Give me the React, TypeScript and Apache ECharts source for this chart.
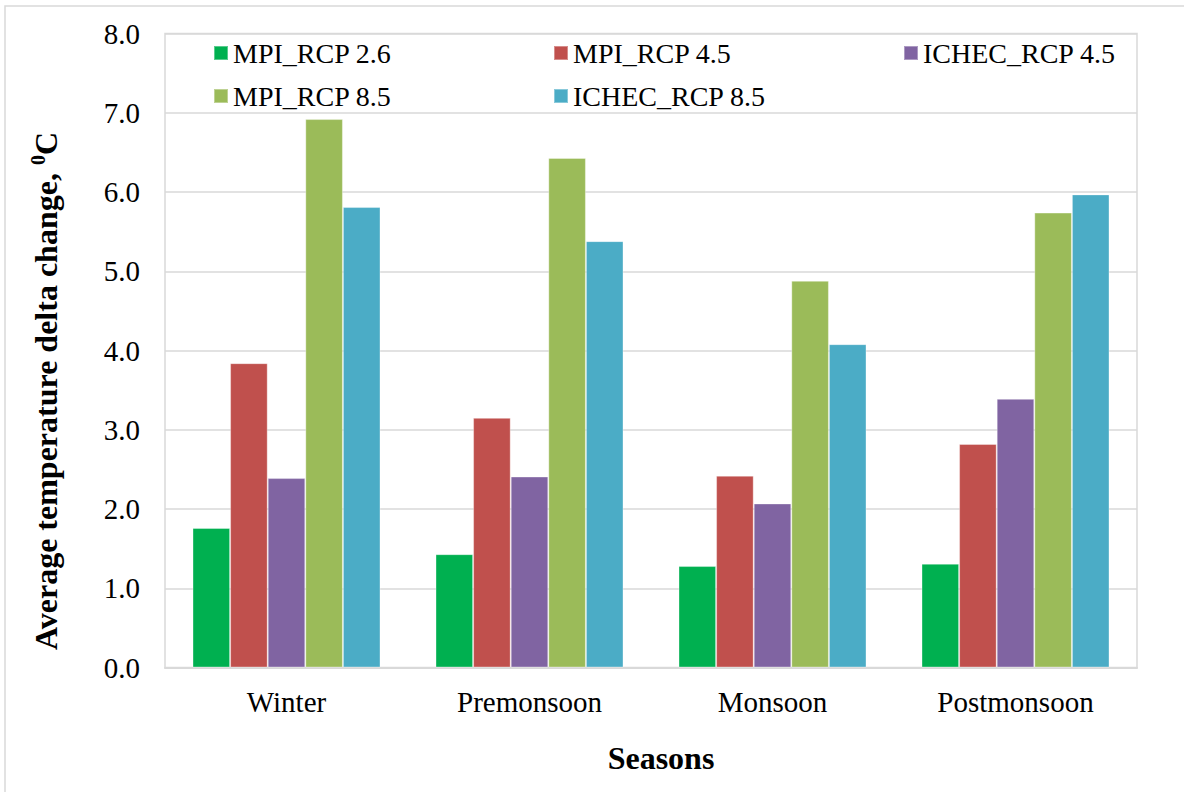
import React, { useEffect, useRef } from "react";
import * as echarts from "echarts";

const categories = ["Winter", "Premonsoon", "Monsoon", "Postmonsoon"];
const seriesNames = ["MPI_RCP 2.6", "MPI_RCP 4.5", "ICHEC_RCP 4.5", "MPI_RCP 8.5", "ICHEC_RCP 8.5"];
const mpi26 = [1.76, 1.43, 1.28, 1.31];
const mpi45 = [3.84, 3.15, 2.42, 2.82];
const ichec45 = [2.39, 2.41, 2.07, 3.39];
const mpi85 = [6.92, 6.43, 4.88, 5.74];
const ichec85 = [5.81, 5.38, 4.08, 5.97];
const seriesValues = [mpi26, mpi45, ichec45, mpi85, ichec85];
const colors = ["#00B050", "#C0504D", "#8064A2", "#9BBB59", "#4BACC6"];
const yTicks = { min: 0, max: 8, interval: 1 };

const FONT = "Liberation Serif";

// legend positions: [left, centerY]
const legendPos: [number, number][] = [
  [213, 53],
  [553, 53],
  [903, 53],
  [213, 96],
  [553, 96],
];

export default function App() {
  const ref = useRef<HTMLDivElement>(null);
  useEffect(() => {
    if (!ref.current) return;
    const chart = echarts.init(ref.current, null, { renderer: "svg" });
    const option: any = {
      animation: false,
      backgroundColor: "#ffffff",
      textStyle: { fontFamily: FONT },
      grid: {
        left: 165,
        top: 33.5,
        width: 972,
        height: 634,
        show: true,
        borderColor: "#D9D9D9",
        borderWidth: 1.5,
        backgroundColor: "#ffffff",
      },
      legend: seriesNames.map((n, i) => ({
        data: [n],
        left: legendPos[i][0],
        top: legendPos[i][1] - 15,
        padding: 0,
        icon: "rect",
        itemWidth: 14,
        itemHeight: 14,
        textStyle: {
          fontFamily: FONT,
          fontSize: 28,
          color: "#000",
          lineHeight: 30,
        },
      })),
      xAxis: {
        type: "category",
        data: categories,
        axisTick: { show: false },
        axisLine: { show: true, lineStyle: { color: "#D9D9D9", width: 2 } },
        axisLabel: {
          fontFamily: FONT,
          fontSize: 29,
          color: "#000",
          margin: 20,
        },
      },
      yAxis: {
        type: "value",
        min: yTicks.min,
        max: yTicks.max,
        interval: yTicks.interval,
        axisLine: { show: false },
        axisTick: { show: false },
        splitLine: { lineStyle: { color: "#D9D9D9", width: 1.5 } },
        axisLabel: {
          fontFamily: FONT,
          fontSize: 29,
          color: "#000",
          margin: 25,
          formatter: (v: number) => v.toFixed(1),
        },
      },
      series: seriesNames.map((n, i) => ({
        name: n,
        type: "bar",
        data: seriesValues[i],
        barWidth: 37.6,
        barGap: "0%",
        itemStyle: {
          color: colors[i],
          borderColor: "rgba(255,255,255,0.35)",
          borderWidth: 1,
        },
      })),
      graphic: [
        {
          type: "rect",
          shape: { x: 5, y: 6, width: 1300, height: 900 },
          style: { fill: "none", stroke: "#D9D9D9", lineWidth: 1.5 },
          silent: true,
          z: -10,
        },
        {
          type: "text",
          x: 46,
          y: 391,
          rotation: Math.PI / 2,
          style: {
            text: "{a|Average temperature delta change, }{s|0}{a|C}",
            align: "center",
            verticalAlign: "middle",
            rich: {
              a: { fontFamily: FONT, fontSize: 32, fontWeight: "bold", fill: "#000", lineHeight: 36 },
              s: { fontFamily: FONT, fontSize: 20, fontWeight: "bold", fill: "#000", lineHeight: 36, verticalAlign: "top", padding: [0, 0, 11, 0] },
            },
          },
        },
        {
          type: "text",
          x: 661,
          y: 758,
          style: {
            text: "Seasons",
            fontFamily: FONT,
            fontSize: 32,
            fontWeight: "bold",
            fill: "#000",
            align: "center",
            verticalAlign: "middle",
          },
        },
      ],
    };
    chart.setOption(option);
    return () => chart.dispose();
  }, []);
  return (
    <div
      ref={ref}
      style={{ position: "fixed", left: 0, top: 0, width: 1184, height: 792 }}
    />
  );
}
